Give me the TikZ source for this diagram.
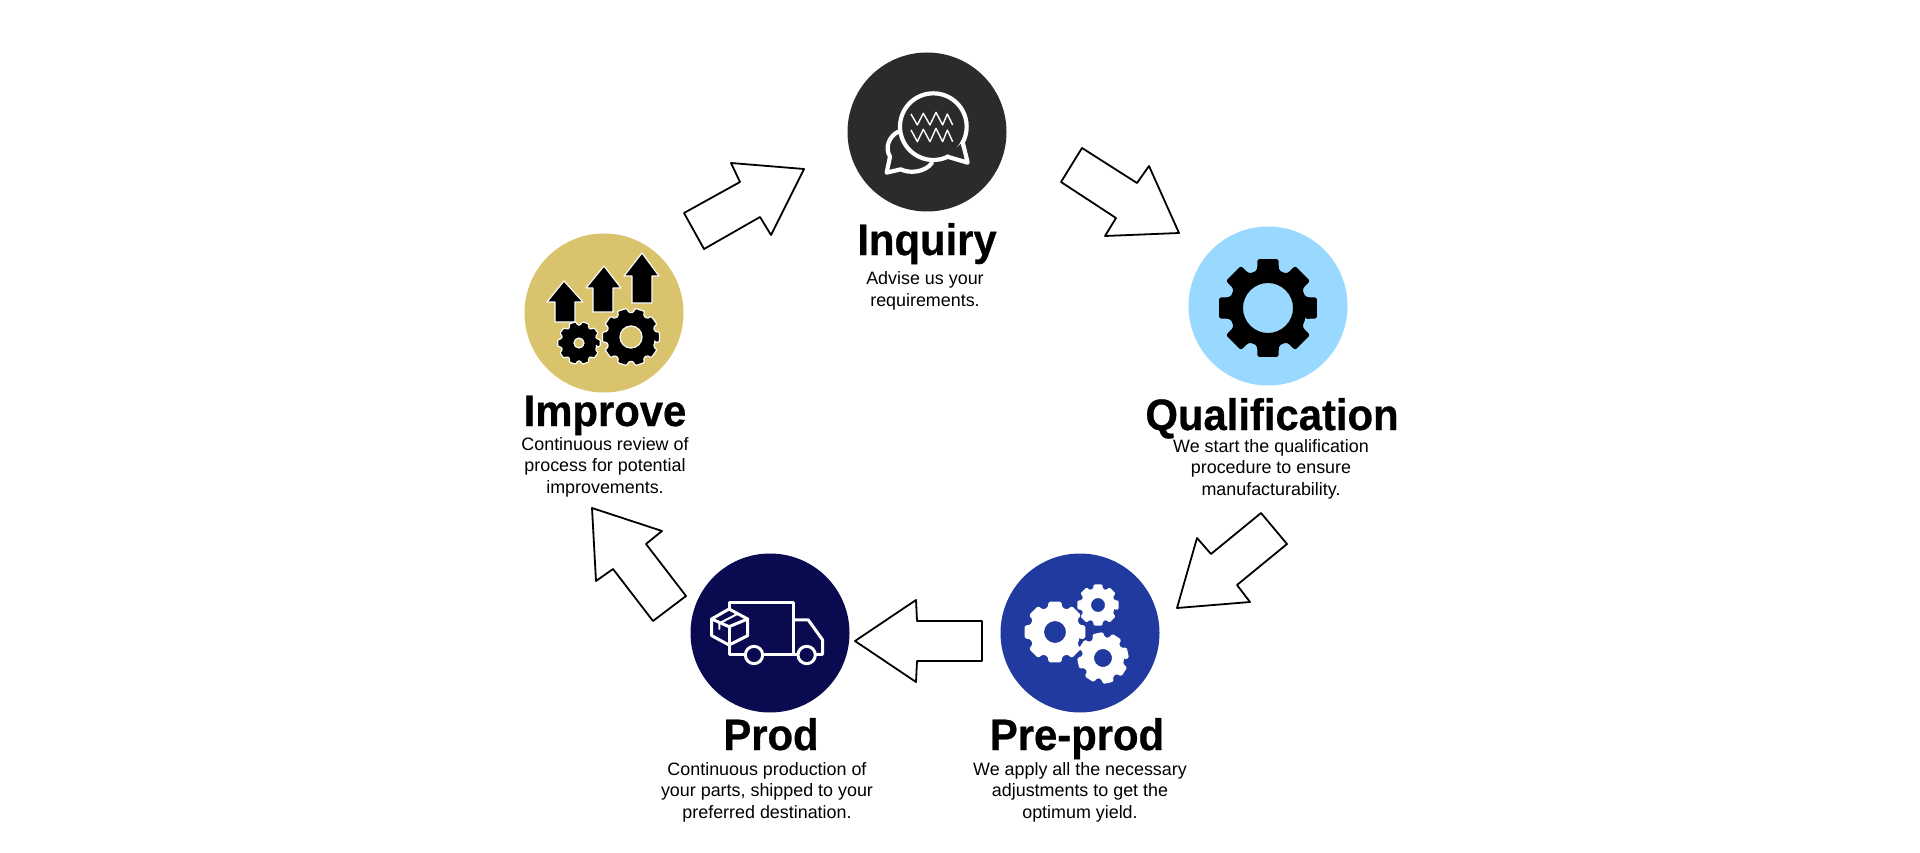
\documentclass[tikz,border=0pt]{standalone}
\usepackage{fontspec}
\setmainfont{Liberation Sans}
\newfontfamily\headfont{Liberation Sans}[FakeStretch=0.95,BoldFeatures={FakeBold=0.6}]
\definecolor{cinq}{HTML}{2B2B2B}
\definecolor{cqua}{HTML}{99D9FF}
\definecolor{cpre}{HTML}{213A9F}
\definecolor{cpro}{HTML}{0A0A50}
\definecolor{cimp}{HTML}{D9C36C}
\tikzset{
  disc/.style={circle,minimum size=159pt,inner sep=0pt,fill=#1},
  heading/.style={inner sep=0pt,anchor=base,font=\headfont\bfseries\fontsize{44}{44}\selectfont},
  body/.style={inner sep=0pt,align=center,font=\fontsize{17.9}{21.5}\selectfont},
  blockarrow/.style={draw=black,fill=white,line width=1.8pt,line join=round},
  iconline/.style={draw=white,line width=3pt,line join=round,line cap=round},
  thinline/.style={draw=white,line width=1.4pt,line join=round},
  upmark/.style={fill=black,draw=white,line width=1.2pt,line join=round},
}
% \mygear{cx}{cy}{outer}{root}{hole}{teeth}{rotation}{style}
\newcommand{\mygear}[8]{%
  \pgfmathsetmacro{\gstep}{360/#6}%
  \pgfmathsetmacro{\gw}{\gstep*0.27}%
  \pgfmathsetmacro{\gv}{\gstep*0.36}%
  \path[shift={(#1,#2)},rotate=#7,even odd rule,#8]
    (-\gv:#4pt)
    \foreach \gi in {1,...,#6}{
      -- ({(\gi-1)*\gstep-\gw}:#3pt) -- ({(\gi-1)*\gstep+\gw}:#3pt)
      -- ({(\gi-1)*\gstep+\gv}:#4pt) -- ({\gi*\gstep-\gv}:#4pt)
    } -- cycle
    (0,0) circle (#5pt);
}
\begin{document}
\begin{tikzpicture}[x=1pt,y=-1pt]
\useasboundingbox (0,0) rectangle (1920,853);
% discs
\node[disc=cinq] (inq) at (927,132) {};
\node[disc=cqua] (qua) at (1268,306) {};
\node[disc=cpre] (pre) at (1080,633) {};
\node[disc=cpro] (pro) at (770,633) {};
\node[disc=cimp] (imp) at (604,313) {};
% block arrows
\draw[blockarrow] (731,163) -- (804,169) -- (771,235) -- (760,217) -- (704,249) -- (684,213) -- (740,182) -- cycle;
\draw[blockarrow] (1082,148) -- (1137,183) -- (1149,166) -- (1179,233) -- (1105,236) -- (1116,218) -- (1061,182) -- cycle;
\draw[blockarrow] (1261,513) -- (1287,544) -- (1237,585) -- (1250,602) -- (1177,608) -- (1197,538) -- (1211,554) -- cycle;
\draw[blockarrow] (982,621) -- (982,661) -- (917,661) -- (916,682) -- (855,641) -- (916,600) -- (917,621) -- cycle;
\draw[blockarrow] (592,508) -- (662,531) -- (646,544) -- (686,596) -- (653,621) -- (613,569) -- (596,581) -- cycle;
% chat icon
\begin{scope}[shift={(830,40)},x=0.3333pt,y=-0.3333pt]
  \draw[iconline,line width=4.2pt] (205,275) .. controls (178,288) and (163,322) .. (180,350) -- (170,398) -- (212,388) .. controls (240,402) and (285,396) .. (305,370);
  \draw[iconline,line width=4.2pt,fill=cinq] (310,260) circle (100pt*0.3333);
  \fill[cinq] (392,312) -- (408,362) -- (352,345) -- cycle;
  \draw[iconline,line width=4.2pt] (398,306) -- (413,368) -- (352,350);
  \draw[thinline] (243,222) -- (262,255) -- (280,220) -- (300,255) -- (318,217) -- (338,255) -- (352,222) -- (368,255);
  \draw[thinline] (243,270) -- (262,305) -- (280,268) -- (300,305) -- (318,265) -- (338,305) -- (352,270) -- (368,305);
\end{scope}
% qualification gear
\mygear{1268}{308}{50}{39}{25}{8}{0}{fill=black,rounded corners=2pt}
% pre-prod gears
\mygear{1055}{632}{31}{25.5}{11}{8}{0}{fill=white,rounded corners=1.5pt}
\mygear{1098}{605}{21}{17}{7}{8}{0}{fill=white,rounded corners=1.2pt}
\mygear{1103}{658}{26}{21}{9}{8}{12}{fill=white,rounded corners=1.5pt}
% truck icon
\begin{scope}[shift={(680,545)},x=0.3333pt,y=-0.3333pt]
  \draw[iconline] (147,190) -- (147,172) -- (340,172) -- (340,328);
  \draw[iconline] (147,302) -- (147,328) -- (195,328);
  \draw[iconline] (250,328) -- (352,328);
  \draw[iconline] (408,328) -- (428,328) -- (428,285) -- (385,225) -- (340,225);
  \draw[iconline] (222,330) circle (26pt*0.3333);
  \draw[iconline] (380,330) circle (26pt*0.3333);
  \draw[iconline] (147,192) -- (203,222) -- (203,272) -- (147,300) -- (95,272) -- (95,222) -- cycle;
  \draw[iconline] (95,222) -- (147,245) -- (203,222);
  \draw[iconline] (147,245) -- (147,300);
  \draw[iconline,line width=2pt] (172,207) -- (118,235) -- (118,252);
\end{scope}
% improve icon
\draw[upmark] (564,281) -- (583,302) -- (575,302) -- (575,322) -- (555,322) -- (555,302) -- (547,302) -- cycle;
\draw[upmark] (604,266) -- (621,288) -- (613,288) -- (613,312) -- (593,312) -- (593,288) -- (586,288) -- cycle;
\draw[upmark] (642,253) -- (659,276) -- (652,276) -- (652,303) -- (632,303) -- (632,276) -- (624,276) -- cycle;
\mygear{579}{343}{21.5}{18}{5}{10}{0}{fill=black,draw=white,line width=1.2pt,rounded corners=1.2pt}
\mygear{631}{337}{29}{24.5}{11}{10}{0}{fill=black,draw=white,line width=1.2pt,rounded corners=1.2pt}
% texts
\node[heading] (inqh) at (927,255) {Inquiry};
\node[body] (inqb) at (925,291) {Advise us your\\requirements.};
\node[heading] (quah) at (1272,430) {Qualification};
\node[body] (quab) at (1271,469) {We start the qualification\\procedure to ensure\\manufacturability.};
\node[heading] (preh) at (1077,750) {Pre-prod};
\node[body] (preb) at (1080,792) {We apply all the necessary\\adjustments to get the\\optimum yield.};
\node[heading] (proh) at (771,750) {Prod};
\node[body] (prob) at (767,792) {Continuous production of\\your parts, shipped to your\\preferred destination.};
\node[heading] (imph) at (605,426) {Improve};
\node[body] (impb) at (605,467) {Continuous review of\\process for potential\\improvements.};
\end{tikzpicture}
\end{document}
